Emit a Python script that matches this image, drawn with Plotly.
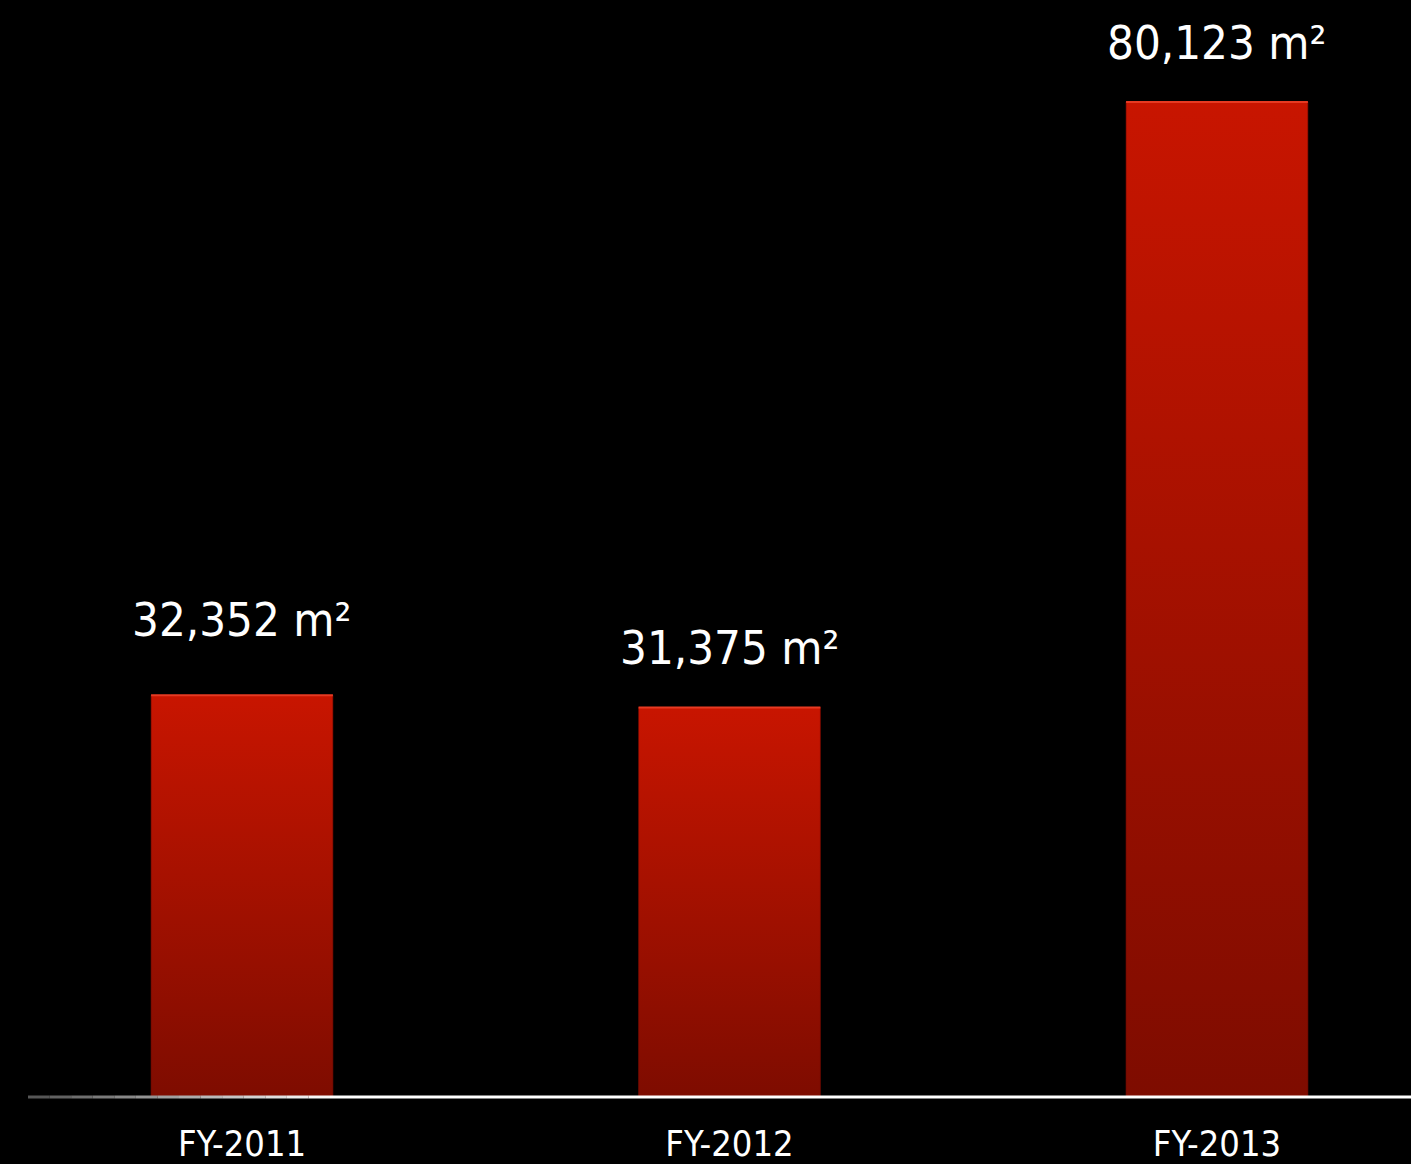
import plotly.graph_objects as go

# ---- data ----
categories = ["FY-2011", "FY-2012", "FY-2013"]
areas_m2 = [32352, 31375, 80123]
value_labels = ["32,352 m²", "31,375 m²", "80,123 m²"]

# ---- style ----
FONT = "DejaVu Sans Condensed, Tahoma, DejaVu Sans, sans-serif"
BAR_WIDTH = 0.373
BAR_TOP = "#C81500"
BAR_BOTTOM = "#7E0C00"
LABEL_SHIFT = [76, 60, 60]

fig = go.Figure()

for i, (cat, v) in enumerate(zip(categories, areas_m2)):
    x0, x1 = i - BAR_WIDTH / 2, i + BAR_WIDTH / 2
    fig.add_trace(go.Scatter(
        x=[x0, x1, x1, x0, x0], y=[0, 0, v, v, 0],
        mode="lines", fill="toself",
        line=dict(color="rgba(120,10,0,0.6)", width=1),
        fillgradient=dict(type="vertical",
                          colorscale=[[0, BAR_BOTTOM], [1, BAR_TOP]]),
        name=cat, showlegend=False, hoverinfo="skip",
    ))
    # light top edge highlight
    fig.add_trace(go.Scatter(
        x=[x0, x1], y=[v, v], mode="lines",
        line=dict(color="#E63A22", width=2),
        showlegend=False, hoverinfo="skip",
    ))

annotations = []
for i, (v, lab) in enumerate(zip(areas_m2, value_labels)):
    annotations.append(dict(
        x=i, y=v, xref="x", yref="y", text=lab, showarrow=False,
        yanchor="middle", xanchor="center", yshift=LABEL_SHIFT[i],
        font=dict(family=FONT, size=47, color="white"),
    ))

# baseline with a gradient fade on the left
shapes = []
n_seg = 14
fade_x0, fade_x1 = 28 / 1411, 330 / 1411
for k in range(n_seg):
    a = fade_x0 + (fade_x1 - fade_x0) * k / n_seg
    b = fade_x0 + (fade_x1 - fade_x0) * (k + 1) / n_seg
    g = int(80 + (255 - 80) * (k + 0.5) / n_seg)
    shapes.append(dict(type="line", xref="paper", yref="paper", x0=a, x1=b, y0=0, y1=0,
                       layer="above", line=dict(color=f"rgb({g},{g},{g})", width=3)))
shapes.append(dict(type="line", xref="paper", yref="paper", x0=fade_x1, x1=1, y0=0, y1=0,
                   layer="above", line=dict(color="white", width=3)))

fig.update_layout(
    width=1411, height=1164,
    paper_bgcolor="black", plot_bgcolor="black",
    margin=dict(l=0, r=0, t=0, b=67),
    showlegend=False,
    annotations=annotations,
    shapes=shapes,
    xaxis=dict(range=[-0.4964, 2.398], tickvals=list(range(len(categories))),
               ticktext=categories, showgrid=False, zeroline=False, showline=False,
               ticks="", ticklabelstandoff=22,
               tickfont=dict(family=FONT, size=36, color="white"),
               fixedrange=True),
    yaxis=dict(range=[0, 88340], visible=False, showgrid=False, zeroline=False,
               fixedrange=True),
)

fig.write_html("out.html", config={"displayModeBar": False})
